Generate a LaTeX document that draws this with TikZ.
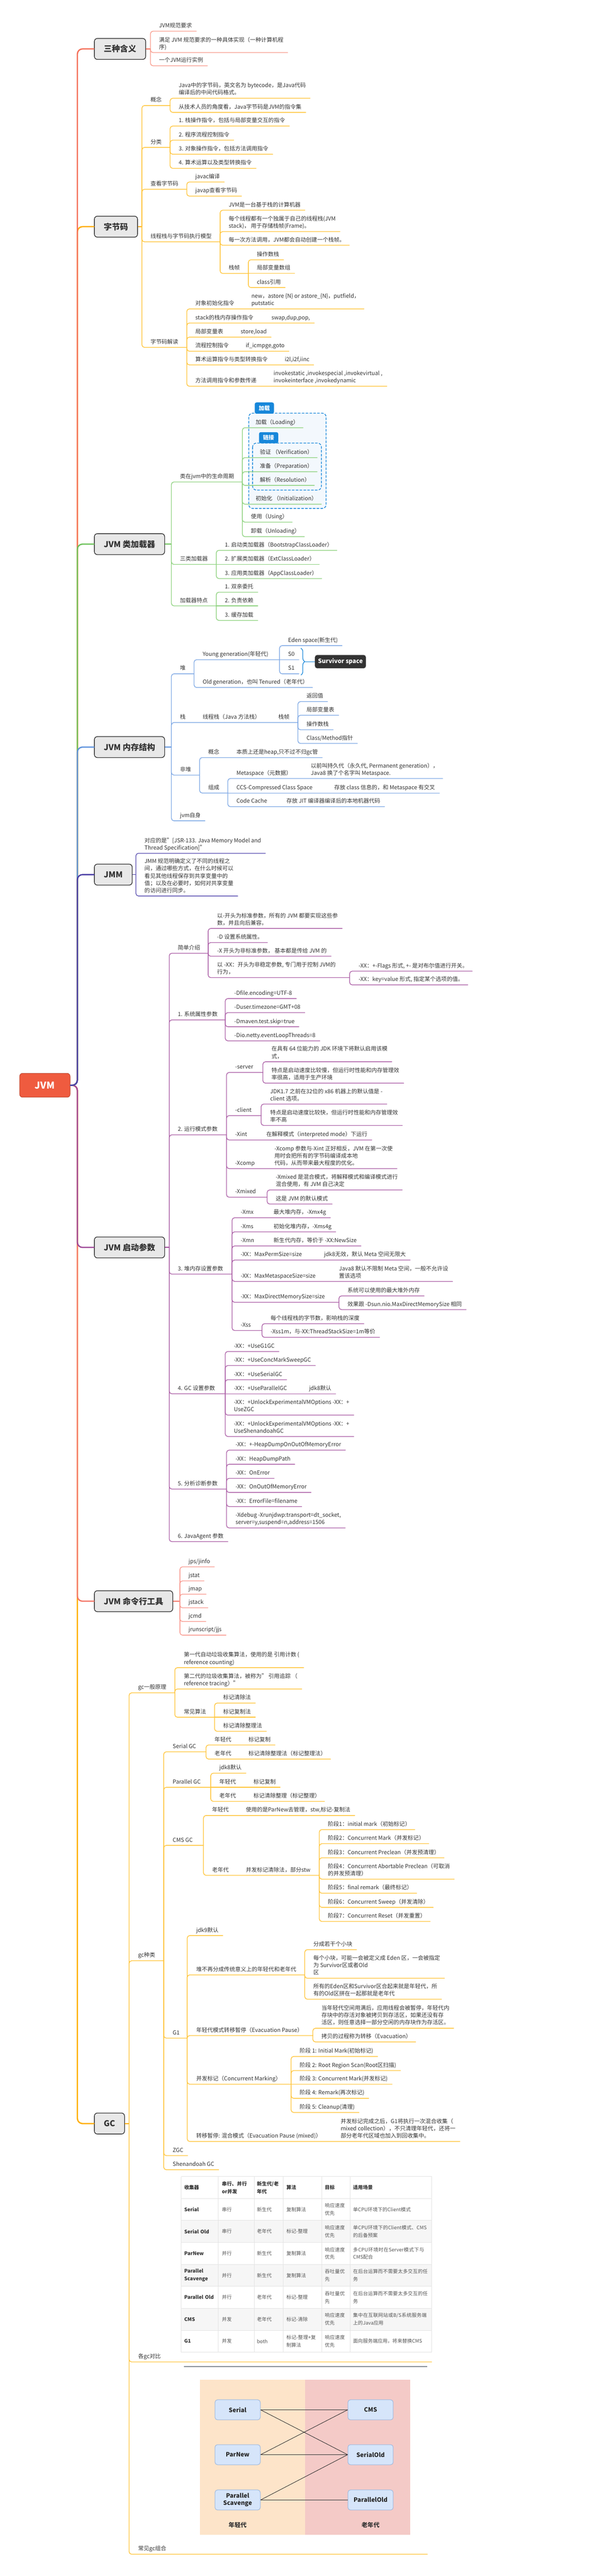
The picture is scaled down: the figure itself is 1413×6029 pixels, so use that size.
\documentclass[tikz,border=0pt]{standalone}
\usepackage{fontspec}
\setmainfont{Noto Sans CJK SC}
\usetikzlibrary{calc,decorations.pathreplacing}
\XeTeXlinebreaklocale "zh"
\XeTeXlinebreakskip = 0pt plus 1pt
\definecolor{txtc}{HTML}{333333}
\definecolor{cRoot}{HTML}{EF5B3F}
\definecolor{cA}{HTML}{F5705A}\definecolor{cAl}{HTML}{F8998A}
\definecolor{cB}{HTML}{FFAE00}\definecolor{cBl}{HTML}{FFC53A}
\definecolor{cC}{HTML}{6EC25B}\definecolor{cCl}{HTML}{8ED27F}
\definecolor{cD}{HTML}{5F93DD}\definecolor{cDl}{HTML}{7FA9E5}
\definecolor{cE}{HTML}{4A3EA5}\definecolor{cEl}{HTML}{5E53B3}
\definecolor{cF}{HTML}{9E4898}\definecolor{cFl}{HTML}{AD62A8}
\definecolor{cG}{HTML}{F4786A}\definecolor{cGl}{HTML}{F8998F}
\definecolor{cH}{HTML}{FFAE00}\definecolor{cHl}{HTML}{FFC53A}
\definecolor{cBnd}{HTML}{1787DA}\definecolor{cBndF}{HTML}{F3F8FD}
\definecolor{tline}{HTML}{E4E4E4}\definecolor{tgrey}{HTML}{F6F6F6}
\definecolor{ttxt}{HTML}{555555}
\definecolor{dgL}{HTML}{FDE4C9}\definecolor{dgR}{HTML}{F4CAC7}
\definecolor{gbF}{HTML}{D6E5FA}\definecolor{gbD}{HTML}{9DB8DE}
\definecolor{imgline}{HTML}{2E3B4A}
\newcounter{cc}
\tikzset{
 txt/.style={inner sep=0pt, align=left, text=txtc, font=\fontsize{13}{17}\selectfont},
 bbox/.style={draw=black!80, line width=1.6pt, fill=black!9, rounded corners=7pt, minimum height=49pt, inner xsep=22pt, text=black!80, font=\fontsize{19}{22}\selectfont\bfseries},
 rootbox/.style={draw=cRoot!80!black, line width=1.2pt, fill=cRoot, rounded corners=7pt, minimum height=56pt, minimum width=118pt, text=white, font=\fontsize{22}{24}\selectfont\bfseries},
 trunk/.style={line width=3pt, rounded corners=12pt, line cap=round},
 brl/.style={draw=cAl, line width=1.6pt, line cap=round},
 bnd/.style={draw=cBnd, dashed, dash pattern=on 6pt off 3pt, line width=1.6pt, fill=cBndF, rounded corners=9pt},
 tabn/.style={fill=cBnd, rounded corners=4pt, text=white, font=\fontsize{13}{15}\selectfont\bfseries, minimum width=45pt, minimum height=26pt, inner sep=0pt},
 cellt/.style={inner sep=0pt, align=left, text=ttxt, font=\fontsize{11.5}{18}\selectfont},
 cellh/.style={text=txtc, font=\fontsize{11.5}{18}\selectfont\bfseries},
 gcb/.style={draw=gbD, fill=gbF, line width=1.2pt, rounded corners=6pt, minimum width=106pt, minimum height=47pt, align=center, font=\fontsize{14}{17}\selectfont\bfseries, text=black!85},
 gcl/.style={draw=black!80, line width=1.1pt},
}
\newcommand{\Cn}[4]{\ifdim #2pt=#3pt\relax\draw[brl] (#1,#3) -- #4;\else\draw[brl,rounded corners=6pt] (#1,#2) -- (#1,#3) -- #4;\fi}
\newcommand{\Lf}[6]{\node[txt,anchor=south west] (#1) at (#2,#3-3) {#4\strut};\Cn{#5}{#6}{#3}{($(#1.south east)+(10,3)$)}}
\newcommand{\Md}[7]{\node[txt,anchor=south west] (#1) at (#2,#3-3) {#4\strut};\Cn{#5}{#6}{#3}{(#7,#3)}}
\newcommand{\LfP}[8]{\node[txt,anchor=south west] (#1) at (#2,#3-3) {#4\strut};\node[txt,anchor=south west] (#1v) at (#5,#3-3) {#6\strut};\Cn{#7}{#8}{#3}{($(#1v.south east)+(10,3)$)}}
\newcommand{\MdP}[9]{\node[txt,anchor=south west] (#1) at (#2,#3-3) {#4\strut};\node[txt,anchor=south west] (#1v) at (#5,#3-3) {#6\strut};\Cn{#7}{#8}{#3}{(#9,#3)}}
\newcommand{\Cl}[5]{\stepcounter{cc}\node[cellt,#5,text width=#3pt,anchor=west] (cell\arabic{cc}) at (#1,{#2}) {#4};}
\newcommand{\Row}[8]{\Cl{431}{5094+51.4*#1+25.7}{74}{#2}{cellh}\Cl{519}{5094+51.4*#1+25.7}{68}{#3}{#8}\Cl{601}{5094+51.4*#1+25.7}{55}{#4}{#8}\Cl{670}{5094+51.4*#1+25.7}{76}{#5}{#8}\Cl{760}{5094+51.4*#1+25.7}{51}{#6}{#8}\Cl{826}{5094+51.4*#1+25.7}{178}{#7}{#8}}
\begin{document}
\begin{tikzpicture}[x=1pt,y=-1pt]
\useasboundingbox (0,0) rectangle (1413,6029);
\fill[white] (0,0) rectangle (1413,6029);
% ---------- root and branch boxes
\node[rootbox] (root) at (105,2540) {JVM};
\node[bbox,anchor=west] (b1) at (220,114.5) {三种含义};
\node[bbox,anchor=west] (b2) at (220,530.5) {字节码};
\node[bbox,anchor=west] (b3) at (220,1273.5) {JVM 类加载器};
\node[bbox,anchor=west] (b4) at (220,1748.5) {JVM 内存结构};
\node[bbox,anchor=west] (b5) at (220,2047) {JMM};
\node[bbox,anchor=west] (b6) at (220,2919.5) {JVM 启动参数};
\node[bbox,anchor=west] (b7) at (220,3747.5) {JVM 命令行工具};
\node[bbox,anchor=west] (b8) at (220,4970) {GC};
\draw[trunk,draw=cH] (root.east) -- (181,2540) -- (181,4970) -- (b8.west);
\draw[trunk,draw=cG] (root.east) -- (181,2540) -- (181,3747.5) -- (b7.west);
\draw[trunk,draw=cF] (root.east) -- (181,2540) -- (181,2919.5) -- (b6.west);
\draw[trunk,draw=cB] (root.east) -- (181,2540) -- (181,530.5) -- (b2.west);
\draw[trunk,draw=cA] (root.east) -- (181,2540) -- (181,114.5) -- (b1.west);
\draw[trunk,draw=cC] (root.east) -- (181,2540) -- (181,1273.5) -- (b3.west);
\draw[trunk,draw=cD] (root.east) -- (181,2540) -- (181,1748.5) -- (b4.west);
\draw[trunk,draw=cE] (root.east) -- (181,2540) -- (181,2047) -- (b5.west);
% ---------- A 三种含义
\tikzset{brl/.style={draw=cAl,line width=1.6pt,line cap=round}}
\draw[draw=cA,line width=2pt] (b1.east) -- (352,114.5);
\Lf{a1}{372}{73}{JVM规范要求}{352}{114.5}
\Lf{a2}{372}{123}{满足 JVM 规范要求的一种具体实现（一种计算机程\\序)}{352}{114.5}
\Lf{a3}{372}{154}{一个JVM运行实例}{352}{114.5}
% ---------- B 字节码
\tikzset{brl/.style={draw=cBl,line width=1.6pt,line cap=round}}
\draw[draw=cB,line width=2pt] (b2.east) -- (332,530.5);
\Md{g1}{352}{247}{概念}{332}{530.5}{398}
\Lf{g1a}{418}{230}{Java中的字节码，英文名为 bytecode，是Java代码\\编译后的中间代码格式。}{398}{247}
\Lf{g1b}{418}{263}{从技术人员的角度看，Java字节码是JVM的指令集}{398}{247}
\Md{g2}{352}{345}{分类}{332}{530.5}{398}
\Lf{g2a}{418}{295}{1. 栈操作指令，包括与局部变量交互的指令}{398}{345}
\Lf{g2b}{418}{328}{2. 程序流程控制指令}{398}{345}
\Lf{g2c}{418}{361}{3. 对象操作指令，包括方法调用指令}{398}{345}
\Lf{g2d}{418}{394}{4. 算术运算以及类型转换指令}{398}{345}
\Md{g3}{352}{443}{查看字节码}{332}{530.5}{437}
\Lf{g3a}{457}{426}{javac编译}{437}{443}
\Lf{g3b}{457}{459}{javap查看字节码}{437}{443}
\Md{g4}{352}{566}{线程栈与字节码执行模型}{332}{530.5}{515}
\Lf{g4a}{535}{492}{JVM是一台基于栈的计算机器}{515}{566}
\Lf{g4b}{535}{542}{每个线程都有一个独属于自己的线程栈(JVM\\stack)， 用于存储栈帧(Frame)。}{515}{566}
\Lf{g4c}{535}{574}{每一次方法调用，JVM都会自动创建一个栈帧。}{515}{566}
\Md{g4d}{535}{640}{栈帧}{515}{566}{581}
\Lf{g4e}{601}{608}{操作数栈}{581}{640}
\Lf{g4f}{601}{640}{局部变量数组}{581}{640}
\Lf{g4g}{601}{673}{class引用}{581}{640}
\Md{g5}{352}{813}{字节码解读}{332}{530.5}{437}
\LfP{g5a}{457}{723}{对象初始化指令}{588}{new，astore \{N\} or astore\_\{N\}，putfield，\\putstatic}{437}{813}
\LfP{g5b}{457}{756}{stack的栈内存操作指令}{635}{swap,dup,pop,}{437}{813}
\LfP{g5c}{457}{789}{局部变量表}{563}{store,load}{437}{813}
\LfP{g5d}{457}{822}{流程控制指令}{575}{if\_icmpge,goto}{437}{813}
\LfP{g5e}{457}{854}{算术运算指令与类型转换指令}{666}{i2l,i2f,iinc}{437}{813}
\LfP{g5f}{457}{904}{方法调用指令和参数传递}{640}{invokestatic ,invokespecial ,invokevirtual ,\\invokeinterface ,invokedynamic}{437}{813}
% ---------- C 类加载器
\tikzset{brl/.style={draw=cCl,line width=1.6pt,line cap=round}}
\draw[bnd] (582,967) rectangle (763,1190);
\node[tabn] (tab1) at (618.5,955) {加载};
\draw[bnd] (591,1037) rectangle (752,1147);
\node[tabn] (tab2) at (628.5,1024.5) {链接};
\draw[draw=cC,line width=2pt] (b3.east) -- (401,1273.5);
\Md{c1}{421}{1128}{类在jvm中的生命周期}{401}{1273.5}{567}
\Lf{c1a}{598}{1001}{加载（Loading）}{567}{1128}
\Lf{c1b}{608}{1071}{验证 （Verification）}{567}{1128}
\Lf{c1c}{608}{1104}{准备（Preparation）}{567}{1128}
\Lf{c1d}{608}{1136}{解析（Resolution）}{567}{1128}
\Lf{c1e}{598}{1180}{初始化 （Initialization）}{567}{1128}
\Lf{c1f}{587}{1222}{使用（Using）}{567}{1128}
\Lf{c1g}{587}{1256}{卸载（Unloading）}{567}{1128}
\Md{c2}{421}{1321}{三类加载器}{401}{1273.5}{506}
\Lf{c2a}{526}{1288}{1. 启动类加载器（BootstrapClassLoader）}{506}{1321}
\Lf{c2b}{526}{1321}{2. 扩展类加载器（ExtClassLoader）}{506}{1321}
\Lf{c2c}{526}{1354}{3. 应用类加载器（AppClassLoader）}{506}{1321}
\Md{c3}{421}{1418}{加载器特点}{401}{1273.5}{506}
\Lf{c3a}{526}{1386}{1. 双亲委托}{506}{1418}
\Lf{c3b}{526}{1418}{2. 负责依赖}{506}{1418}
\Lf{c3c}{526}{1452}{3. 缓存加载}{506}{1418}
% ---------- D 内存结构
\tikzset{brl/.style={draw=cDl,line width=1.6pt,line cap=round}}
\draw[draw=cD,line width=2pt] (b4.east) -- (401,1748.5);
\Md{m1}{421}{1577}{堆}{401}{1748.5}{454}
\Md{m2}{474}{1544}{Young generation(年轻代)}{454}{1577}{654}
\Lf{m2a}{674}{1511}{Eden space(新生代)}{654}{1544}
\Lf{m2b}{674}{1544}{S0}{654}{1544}
\Lf{m2c}{674}{1577}{S1}{654}{1544}
\Lf{m3}{474}{1609}{Old generation，也叫 Tenured（老年代）}{454}{1577}
\draw[draw=cBnd,line width=1.5pt,decorate,decoration={brace,amplitude=9pt}] (704,1517) -- (704,1580);
\node[fill=black!80,rounded corners=5pt,text=white,font=\fontsize{14}{16}\selectfont\bfseries,minimum width=119pt,minimum height=31pt,inner sep=0pt] (sv) at (796.5,1548.5) {Survivor space};
\draw[draw=cBnd,line width=1.5pt] (713,1548.5) -- (sv.west);
\node[txt,anchor=south west] (m6) at (421,1688) {栈\strut};
\node[txt,anchor=south west] (m6a) at (474,1688) {线程栈（Java 方法栈）\strut};
\node[txt,anchor=south west] (m6b) at (651,1688) {栈帧\strut};
\Cn{401}{1748.5}{1691}{(697,1691)}
\Lf{m7a}{717}{1642}{返回值}{697}{1691}
\Lf{m7b}{717}{1674}{局部变量表}{697}{1691}
\Lf{m7c}{717}{1708}{操作数栈}{697}{1691}
\Lf{m7d}{717}{1740}{Class/Method指针}{697}{1691}
\Md{m8}{421}{1814}{非堆}{401}{1748.5}{467}
\LfP{m9}{487}{1773}{概念}{553}{本质上还是heap,只不过不归gc管}{467}{1814}
\Md{m10}{487}{1856}{组成}{467}{1814}{533}
\LfP{m11}{553}{1822}{Metaspace（元数据）}{727}{以前叫持久代（永久代, Permanent generation），\\Java8 换了个名字叫 Metaspace.}{533}{1856}
\LfP{m12}{553}{1856}{CCS-Compressed Class Space}{782}{存放 class 信息的，和 Metaspace 有交叉}{533}{1856}
\LfP{m13}{553}{1888}{Code Cache}{670}{存放 JIT 编译器编译后的本地机器代码}{533}{1856}
\Lf{m14}{421}{1921}{jvm自身}{401}{1748.5}
% ---------- E JMM
\tikzset{brl/.style={draw=cEl,line width=1.6pt,line cap=round}}
\draw[draw=cE,line width=2pt] (b5.east) -- (318,2047);
\Lf{j1}{338}{1997}{对应的是"[JSR-133. Java Memory Model and\\Thread Specification]"}{318}{2047}
\Lf{j2}{338}{2097}{JMM 规范明确定义了不同的线程之\\间，通过哪些方式，在什么时候可以\\看见其他线程保存到共享变量中的\\值；以及在必要时，如何对共享变量\\的访问进行同步。}{318}{2047}
% ---------- F 启动参数
\tikzset{brl/.style={draw=cFl,line width=1.6pt,line cap=round}}
\draw[draw=cF,line width=2pt] (b6.east) -- (396,2919.5);
\Md{f1}{416}{2231}{简单介绍}{396}{2919.5}{487}
\Lf{f1a}{508}{2173}{以-开头为标准参数，所有的 JVM 都要实现这些参\\数，并且向后兼容。}{487}{2231}
\Lf{f1b}{508}{2206}{-D 设置系统属性。}{487}{2231}
\Lf{f1c}{508}{2238}{-X 开头为非标准参数， 基本都是传给 JVM 的}{487}{2231}
\Md{f1d}{508}{2288}{以 -XX：开头为非稳定参数, 专门用于控制 JVM的\\行为，}{487}{2231}{818}
\Lf{f1e}{839}{2273}{-XX：+-Flags 形式, +- 是对布尔值进行开关。}{818}{2288}
\Lf{f1f}{839}{2305}{-XX：key=value 形式, 指定某个选项的值。}{818}{2288}
\Md{f2}{416}{2387}{1. 系统属性参数}{396}{2919.5}{527}
\Lf{f2a}{548}{2337}{-Dfile.encoding=UTF-8}{527}{2387}
\Lf{f2b}{548}{2370}{-Duser.timezone=GMT+08}{527}{2387}
\Lf{f2c}{548}{2403}{-Dmaven.test.skip=true}{527}{2387}
\Lf{f2d}{548}{2436}{-Dio.netty.eventLoopThreads=8}{527}{2387}
\Md{f3}{416}{2656}{2. 运行模式参数}{396}{2919.5}{530}
\Md{f3a}{550}{2510}{-server}{530}{2656}{615}
\Lf{f3b}{635}{2485}{在具有 64 位能力的 JDK 环境下将默认启用该模\\式，}{615}{2510}
\Lf{f3c}{635}{2535}{特点是启动速度比较慢，但运行时性能和内存管理效\\率很高，适用于生产环境}{615}{2510}
\Md{f3d}{550}{2611}{-client}{530}{2656}{611}
\Lf{f3e}{632}{2584}{JDK1.7 之前在32位的 x86 机器上的默认值是 -\\client 选项。}{611}{2611}
\Lf{f3f}{632}{2634}{特点是启动速度比较快，但运行时性能和内存管理效\\率不高}{611}{2611}
\LfP{f3g}{550}{2668}{-Xint}{623}{在解释模式（interpreted mode）下运行}{530}{2656}
\LfP{f3h}{550}{2735}{-Xcomp}{642}{-Xcomp 参数与-Xint 正好相反，JVM 在第一次使\\用时会把所有的字节码编译成本地\\代码，从而带来最大程度的优化。}{530}{2656}
\Md{f3i}{550}{2802}{-Xmixed}{530}{2656}{625}
\Lf{f3j}{645}{2785}{-Xmixed 是混合模式，将解释模式和编译模式进行\\混合使用，有 JVM 自己决定}{625}{2802}
\Lf{f3k}{645}{2818}{这是 JVM 的默认模式}{625}{2802}
\Md{f4}{416}{2982}{3. 堆内存设置参数}{396}{2919.5}{543}
\LfP{f4a}{563}{2850}{-Xmx}{640}{最大堆内存，-Xmx4g}{543}{2982}
\LfP{f4b}{563}{2883}{-Xms}{640}{初始化堆内存，-Xms4g}{543}{2982}
\LfP{f4c}{563}{2916}{-Xmn}{640}{新生代内存，等价于 -XX:NewSize}{543}{2982}
\LfP{f4d}{563}{2949}{-XX：MaxPermSize=size}{758}{jdk8无效，默认 Meta 空间无限大}{543}{2982}
\LfP{f4e}{563}{2999}{-XX：MaxMetaspaceSize=size}{793}{Java8 默认不限制 Meta 空间，一般不允许设\\置该选项}{543}{2982}
\Md{f4f}{563}{3048}{-XX：MaxDirectMemorySize=size}{543}{2982}{793}
\Lf{f4g}{813}{3033}{系统可以使用的最大堆外内存}{793}{3048}
\Lf{f4h}{813}{3065}{效果跟 -Dsun.nio.MaxDirectMemorySize 相同}{793}{3048}
\Md{f4i}{563}{3114}{-Xss}{543}{2982}{613}
\Lf{f4j}{633}{3098}{每个线程栈的字节数，影响栈的深度}{613}{3114}
\Lf{f4k}{633}{3130}{-Xss1m，与-XX:ThreadStackSize=1m等价}{613}{3114}
\Md{f5}{416}{3262}{4. GC 设置参数}{396}{2919.5}{527}
\Lf{f5a}{547}{3163}{-XX：+UseG1GC}{527}{3262}
\Lf{f5b}{547}{3196}{-XX：+UseConcMarkSweepGC}{527}{3262}
\Lf{f5c}{547}{3229}{-XX：+UseSerialGC}{527}{3262}
\LfP{f5d}{547}{3262}{-XX：+UseParallelGC}{723}{jdk8默认}{527}{3262}
\Lf{f5e}{547}{3312}{-XX：+UnlockExperimentalVMOptions -XX：+\\UseZGC}{527}{3262}
\Lf{f5f}{547}{3362}{-XX：+UnlockExperimentalVMOptions -XX：+\\UseShenandoahGC}{527}{3262}
\Md{f6}{416}{3485}{5. 分析诊断参数}{396}{2919.5}{530}
\Lf{f6a}{551}{3394}{-XX：+-HeapDumpOnOutOfMemoryError}{530}{3485}
\Lf{f6b}{551}{3427}{-XX：HeapDumpPath}{530}{3485}
\Lf{f6c}{551}{3460}{-XX：OnError}{530}{3485}
\Lf{f6d}{551}{3493}{-XX：OnOutOfMemoryError}{530}{3485}
\Lf{f6e}{551}{3526}{-XX：ErrorFile=filename}{530}{3485}
\Lf{f6f}{551}{3576}{-Xdebug -Xrunjdwp:transport=dt\_socket,\\server=y,suspend=n,address=1506}{530}{3485}
\Lf{f7}{416}{3608}{6. JavaAgent 参数}{396}{2919.5}
% ---------- G 命令行工具
\tikzset{brl/.style={draw=cGl,line width=1.6pt,line cap=round}}
\draw[draw=cG,line width=2pt] (b7.east) -- (421,3747.5);
\Lf{k1}{441}{3667}{jps/jinfo}{421}{3747.5}
\Lf{k2}{441}{3700}{jstat}{421}{3747.5}
\Lf{k3}{441}{3731}{jmap}{421}{3747.5}
\Lf{k4}{441}{3763}{jstack}{421}{3747.5}
\Lf{k5}{441}{3795}{jcmd}{421}{3747.5}
\Lf{k6}{441}{3827}{jrunscript/jjs}{421}{3747.5}
% ---------- H GC
\tikzset{brl/.style={draw=cHl,line width=1.6pt,line cap=round}}
\draw[draw=cH,line width=2pt] (b8.east) -- (302,4970);
\Md{h1}{323}{3962}{gc一般原理}{302}{4970}{409}
\Lf{h1a}{430}{3903}{第一代自动垃圾收集算法，使用的是 引用计数 (\\reference counting)}{409}{3962}
\Lf{h1b}{430}{3953}{第二代的垃圾收集算法，被称为" 引用追踪 （\\reference tracing）"}{409}{3962}
\Md{h1c}{430}{4019}{常见算法}{409}{3962}{502}
\Lf{h1d}{522}{3986}{标记清除法}{502}{4019}
\Lf{h1e}{522}{4019}{标记复制法}{502}{4019}
\Lf{h1f}{522}{4052}{标记清除整理法}{502}{4019}
\Md{h2}{323}{4589}{gc种类}{302}{4970}{383}
\Md{h3}{404}{4100}{Serial GC}{383}{4589}{482}
\LfP{h3a}{502}{4084}{年轻代}{581}{标记复制}{482}{4100}
\LfP{h3b}{502}{4117}{老年代}{581}{标记清除整理法（标记整理法）}{482}{4100}
\Md{h4}{404}{4183}{Parallel GC}{383}{4589}{493}
\Lf{h4a}{513}{4150}{jdk8默认}{493}{4183}
\LfP{h4b}{513}{4183}{年轻代}{593}{标记复制}{493}{4183}
\LfP{h4c}{513}{4216}{老年代}{593}{标记清除整理（标记整理）}{493}{4183}
\Md{h5}{404}{4319}{CMS GC}{383}{4589}{476}
\LfP{h5a}{496}{4249}{年轻代}{575}{使用的是ParNew去管理，stw,标记-复制法}{476}{4319}
\MdP{h5b}{496}{4389}{老年代}{575}{并发标记清除法，部分stw}{476}{4319}{747}
\Lf{h5c}{767}{4282}{阶段1：initial mark（初始标记）}{747}{4389}
\Lf{h5d}{767}{4315}{阶段2：Concurrent Mark（并发标记）}{747}{4389}
\Lf{h5e}{767}{4348}{阶段3：Concurrent Preclean（并发预清理）}{747}{4389}
\Lf{h5f}{767}{4398}{阶段4：Concurrent Abortable Preclean（可取消\\的并发预清理）}{747}{4389}
\Lf{h5g}{767}{4431}{阶段5：final remark（最终标记）}{747}{4389}
\Lf{h5h}{767}{4464}{阶段6：Concurrent Sweep（并发清除）}{747}{4389}
\Lf{h5i}{767}{4497}{阶段7：Concurrent Reset（并发重置）}{747}{4389}
\Md{h6}{404}{4770}{G1}{383}{4589}{438}
\Lf{h6a}{459}{4530}{jdk9默认}{438}{4770}
\Md{h6b}{459}{4622}{堆不再分成传统意义上的年轻代和老年代}{438}{4770}{713}
\Lf{h6c}{733}{4563}{分成若干个小块}{713}{4622}
\Lf{h6d}{733}{4630}{每个小块，可能一会被定义成 Eden 区，一会被指定\\为 Survivor区或者Old\\区}{713}{4622}
\Lf{h6e}{733}{4679}{所有的Eden区和Survivor区合起来就是年轻代，所\\有的Old区拼在一起那就是老年代}{713}{4622}
\Md{h6f}{459}{4764}{年轻代模式转移暂停（Evacuation Pause）}{438}{4770}{732}
\Lf{h6g}{752}{4747}{当年轻代空间用满后，应用线程会被暂停，年轻代内\\存块中的存活对象被拷贝到存活区，如果还没有存\\活区，则任意选择一部分空闲的内存块作为存活区。}{732}{4764}
\Lf{h6h}{752}{4779}{拷贝的过程称为转移（Evacuation）}{732}{4764}
\Md{h6i}{459}{4878}{并发标记（Concurrent Marking）}{438}{4770}{681}
\Lf{h6j}{701}{4813}{阶段 1: Initial Mark(初始标记)}{681}{4878}
\Lf{h6k}{701}{4846}{阶段 2: Root Region Scan(Root区扫描)}{681}{4878}
\Lf{h6l}{701}{4878}{阶段 3: Concurrent Mark(并发标记)}{681}{4878}
\Lf{h6m}{701}{4911}{阶段 4: Remark(再次标记)}{681}{4878}
\Lf{h6n}{701}{4944}{阶段 5: Cleanup(清理)}{681}{4878}
\LfP{h6o}{459}{5012}{转移暂停: 混合模式（Evacuation Pause (mixed)）}{797}{并发标记完成之后，G1将执行一次混合收集（\\mixed collection），不只清理年轻代，还将一\\部分老年代区域也加入到回收集中。}{438}{4770}
\Lf{h7}{404}{5045}{ZGC}{383}{4589}
\Lf{h8}{404}{5078}{Shenandoah GC}{383}{4589}
% table
\foreach \k in {2,4,6} \fill[tgrey] (424,{5094+51.4*\k}) rectangle (1010,{5094+51.4*(\k+1)});
\foreach \yy in {0,...,8} \draw[tline,line width=1pt] (424,{5094+51.4*\yy}) -- (1010,{5094+51.4*\yy});
\foreach \xx in {424,511,595,662,753,819,1010} \draw[tline,line width=1pt] (\xx,5094) -- (\xx,5505.2);
\Row{0}{收集器}{串行、并行or并发}{新生代/老年代}{算法}{目标}{适用场景}{cellh}
\Row{1}{Serial}{串行}{新生代}{复制算法}{响应速度优先}{单CPU环境下的Client模式}{}
\Row{2}{Serial Old}{串行}{老年代}{标记-整理}{响应速度优先}{单CPU环境下的Client模式、CMS的后备预案}{}
\Row{3}{ParNew}{并行}{新生代}{复制算法}{响应速度优先}{多CPU环境时在Server模式下与CMS配合}{}
\Row{4}{Parallel Scavenge}{并行}{新生代}{复制算法}{吞吐量优先}{在后台运算而不需要太多交互的任务}{}
\Row{5}{Parallel Old}{并行}{老年代}{标记-整理}{吞吐量优先}{在后台运算而不需要太多交互的任务}{}
\Row{6}{CMS}{并发}{老年代}{标记-清除}{响应速度优先}{集中在互联网站或B/S系统服务端上的Java应用}{}
\Row{7}{G1}{并发}{both}{标记-整理+复制算法}{响应速度优先}{面向服务端应用，将来替换CMS}{}
\Md{h9}{323}{5528}{各gc对比}{302}{4970}{1010}
% diagram
\draw[draw=imgline,line width=1.2pt] (430,5539) -- (1000,5539);
\fill[dgL] (468,5569) rectangle (714,5933);
\fill[dgR] (714,5569) rectangle (960,5933);
\node[gcb] (s1) at (556,5640) {Serial};
\node[gcb] (s2) at (556,5745) {ParNew};
\node[gcb] (s3) at (556,5851) {Parallel\\Scavenge};
\node[gcb] (o1) at (867,5640) {CMS};
\node[gcb] (o2) at (867,5745) {SerialOld};
\node[gcb] (o3) at (867,5851) {ParallelOld};
\draw[gcl] (s1.east) -- (o1.west);
\draw[gcl] (s1.east) -- (o2.west);
\draw[gcl] (s2.east) -- (o1.west);
\draw[gcl] (s2.east) -- (o2.west);
\draw[gcl] (s3.east) -- (o2.west);
\draw[gcl] (s3.east) -- (o3.west);
\node[font=\fontsize{14}{16}\selectfont\bfseries,text=black!80] (ly) at (556,5910) {年轻代};
\node[font=\fontsize{14}{16}\selectfont\bfseries,text=black!80] (lo) at (867,5910) {老年代};
\Md{h10}{323}{5978}{常见gc组合}{302}{4970}{1000}
\end{tikzpicture}
\end{document}
